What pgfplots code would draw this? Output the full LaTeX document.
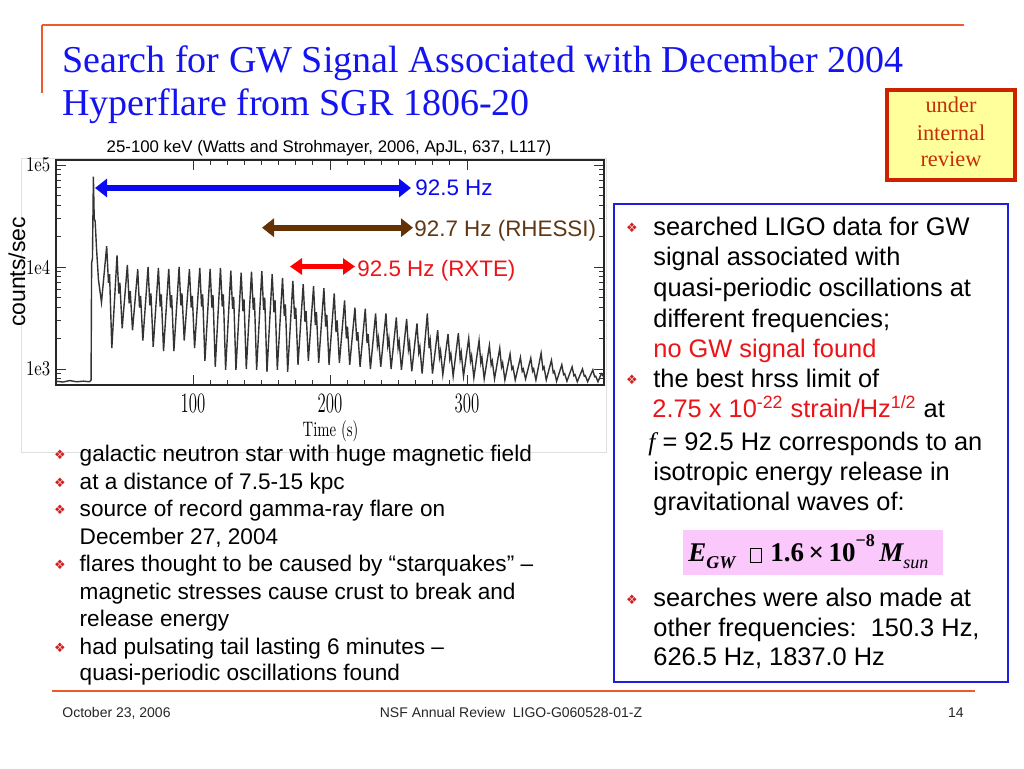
\documentclass[border=0pt]{standalone}
\usepackage{pgfplots}
\pgfplotsset{compat=1.18}
\usepackage{fontspec}
\usetikzlibrary{arrows.meta}
\newfontfamily\arialf{Liberation Sans}
\newfontfamily\timesf{Liberation Serif}
\newfontfamily\djv{DejaVu Sans}

\definecolor{slideorange}{RGB}{240,90,40}
\definecolor{titleblue}{RGB}{20,20,240}
\definecolor{arrowblue}{RGB}{10,10,240}
\definecolor{arrowbrown}{RGB}{100,50,5}
\definecolor{brtext}{RGB}{95,55,20}
\definecolor{txtred}{RGB}{235,20,25}
\definecolor{bulletred}{RGB}{210,30,30}
\definecolor{boxyellow}{RGB}{255,255,156}
\definecolor{boxred}{RGB}{204,34,0}
\definecolor{boxtext}{RGB}{200,45,10}
\definecolor{boxblue}{RGB}{30,30,220}
\definecolor{formpink}{RGB}{250,200,250}

% light curve, counts/sec against time (s)
\pgfplotstableread{
t c
0 760
5 745
10 770
15 750
20 760
24.5 750
25.6 780
26.0 11000
26.6 12000
27.3 77000
27.9 30000
28.6 28000
29.6 15000
31.0 7500
33.2 4500
37.0 16000
38.3 7000
39.1 8500
40.75 1600
44.55 13000
45.85 5500
46.65 7000
48.3 2500
52.1 10500
53.4 4400
54.2 5800
55.85 2400
59.65 9500
60.95 4000
61.75 5200
63.4 1900
67.2 10000
68.5 4200
69.3 5500
70.95 1650
74.75 9800
76.05 4100
76.85 5400
78.5 1500
82.3 9600
83.6 4000
84.4 5300
86.05 1500
89.85 10000
91.15 4200
91.95 5500
93.6 1900
97.4 9500
98.7 4000
99.5 5200
101.15 1600
104.95 9800
106.25 4100
107.05 5400
108.7 1200
112.5 9600
113.8 4000
114.6 5300
116.25 1050
120.05 9800
121.35 4100
122.15 5400
123.8 980
127.6 9200
128.9 3900
129.7 5100
131.35 980
135.15 8800
136.45 3700
137.25 4800
138.9 1000
142.7 9000
144.0 3800
144.8 5000
146.45 980
150.25 9100
151.55 3800
152.35 5000
154.0 940
157.8 8500
159.1 3600
159.9 4700
161.55 980
165.35 7800
166.65 3300
167.45 4300
169.1 940
172.9 7300
174.2 3100
175.0 4000
176.65 1100
180.45 6800
181.75 2900
182.55 3700
184.2 1200
188.0 6500
189.3 2700
190.1 3600
191.75 1150
195.55 6200
196.85 2600
197.65 3400
199.3 1100
203.1 5500
204.4 2300
205.2 3000
206.85 1150
210.65 4700
211.95 2000
212.75 2600
214.4 1100
218.2 4000
219.5 1900
220.3 2300
221.95 1050
225.75 3900
227.05 1800
227.85 2200
229.5 1000
233.3 3500
234.6 1700
235.4 2000
237.05 1050
240.85 3500
242.15 1700
242.95 2000
244.6 1000
248.4 3200
249.7 1600
250.5 1850
252.15 980
255.95 3100
257.25 1550
258.05 1800
259.7 950
263.5 2800
264.8 1450
265.6 1650
267.25 900
271.05 3500
272.35 1600
273.15 1900
274.8 900
278.6 2400
279.9 1300
280.7 1500
282.35 880
286.15 2200
287.45 1250
288.25 1400
289.9 850
293.7 2250
295.0 1250
295.8 1450
297.45 850
301.25 2000
302.55 1200
303.35 1350
305.0 820
308.8 1900
310.1 1150
310.9 1300
312.55 800
316.35 1700
317.65 1100
318.45 1200
320.1 800
323.9 1600
325.2 1050
326.0 1150
327.65 780
331.45 1400
332.75 1000
333.55 1050
335.2 780
339.0 1300
340.3 950
341.1 1000
342.75 800
346.55 1280
347.85 950
348.65 1000
350.3 780
354.1 1430
355.4 1000
356.2 1050
357.85 780
361.65 1220
362.95 920
363.75 950
365.4 760
369.2 1100
370.5 880
371.3 900
372.95 760
376.75 1050
378.05 860
378.85 880
380.5 750
384.3 1000
385.6 850
386.4 860
388.05 750
391.85 980
393.15 840
393.95 850
395.6 750
398.0 900
399.5 850
}\lightcurve

\begin{document}
\begin{tikzpicture}[x=0.5pt,y=0.5pt]
% slide canvas, 1024 x 768 px, y counted upward
\path[use as bounding box, fill=white] (0,0) rectangle (1024,768);

% orange rules
\draw[slideorange, line width=1.2pt] (42,743) -- (964,743);
\draw[slideorange, line width=1.2pt] (42,743) -- (42,675);
\draw[slideorange, line width=1.2pt] (52,77) -- (975,77);

% title
\node[anchor=base west, inner sep=0, text=titleblue, font={\timesf\fontsize{19}{19}\selectfont}] at (62,696)
  {Search for GW Signal Associated with December 2004};
\node[anchor=base west, inner sep=0, text=titleblue, font={\timesf\fontsize{19}{19}\selectfont}] at (62,653)
  {Hyperflare from SGR 1806-20};

% under internal review
\draw[boxred, line width=2pt, fill=boxyellow] (887,678) rectangle (1015,588);
\begin{scope}[every node/.style={anchor=base, inner sep=0, text=boxtext, font={\timesf\fontsize{11.2}{11.2}\selectfont}}]
\node at (951,655.7) {under};
\node at (951,628) {internal};
\node at (951,601.3) {review};
\end{scope}

% frame of the pasted figure
\draw[gray!25, line width=0.5pt] (21,610) rectangle (606,316);

\node[anchor=base, inner sep=0, font={\arialf\fontsize{8.4}{8.4}\selectfont}] at (329,615.3)
  {25-100 keV (Watts and Strohmayer, 2006, ApJL, 637, L117)};
\node[rotate=90, inner sep=0, font={\arialf\fontsize{11.5}{11.5}\selectfont}] at (17,496) {counts/sec};

\begin{axis}[
    at={(28pt,191.5pt)}, anchor=south west,
    scale only axis, width=274pt, height=112.5pt,
    xmin=0, xmax=400,
    ymode=log, ymin=697, ymax=112000,
    xtick={100,200,300}, xticklabels={100,200,300}, minor x tick num=7,
    ytick={1000,10000,100000}, yticklabels={1e3,1e4,1e5},
    minor ytick={800,900,2000,3000,4000,5000,6000,7000,8000,9000,20000,30000,40000,50000,60000,70000,80000,90000},
    tick align=inside, major tick length=5pt, minor tick length=2.6pt,
    axis line style={black!85, line width=0.8pt},
    tick style={black!80, line width=0.5pt},
    xticklabel style={font=\fontsize{14}{14}\selectfont, xscale=0.6, yshift=-1pt},
    yticklabel style={font=\fontsize{10.5}{10.5}\selectfont, xscale=0.8},
  ]
  \addplot[black!80, line width=0.7pt] table[x=t, y=c] {\lightcurve};
\end{axis}

\node[anchor=base, inner sep=0, xscale=0.7, font=\fontsize{10.5}{10.5}\selectfont] at (330.5,331.3) {Time (s)};

% frequency bands
\draw[arrowblue, line width=3pt, {Triangle[length=6pt,width=9pt]}-{Triangle[length=6pt,width=9pt]}] (95,580) -- (411,580);
\draw[arrowbrown, line width=3pt, {Triangle[length=6pt,width=9pt]}-{Triangle[length=6pt,width=9pt]}] (262,540.3) -- (413,540.3);
\draw[red, line width=2.6pt, {Triangle[length=6pt,width=8pt]}-{Triangle[length=6pt,width=8pt]}] (290,501.5) -- (355,501.5);
\begin{scope}[every node/.style={anchor=base west, inner sep=0, font={\arialf\fontsize{11.2}{11.2}\selectfont}}]
\node[text=arrowblue] at (415,573) {92.5 Hz};
\node[text=brtext] at (414,531.3) {92.7 Hz (RHESSI)};
\node[text=txtred] at (357,491.3) {92.5 Hz (RXTE)};
\end{scope}

% left bullet list
\begin{scope}[every node/.style={anchor=base west, inner sep=0, font={\arialf\fontsize{11.3}{11.3}\selectfont}}]
\node at (79.3,306.3) {galactic neutron star with huge magnetic field};
\node at (79.3,278.7) {at a distance of 7.5-15 kpc};
\node at (79.3,251.3) {source of record gamma-ray flare on};
\node at (79.3,224) {December 27, 2004};
\node at (79.3,196.3) {flares thought to be caused by “starquakes” –};
\node at (79.3,168.7) {magnetic stresses cause crust to break and};
\node at (79.3,141.3) {release energy};
\node at (79.3,113.7) {had pulsating tail lasting 6 minutes –};
\node at (79.3,87.3) {quasi-periodic oscillations found};
\end{scope}
\begin{scope}[every node/.style={inner sep=0, text=bulletred, font={\djv\fontsize{6.5}{6.5}\selectfont}}]
\node at (60,313) {❖};
\node at (60,285.5) {❖};
\node at (60,258) {❖};
\node at (60,203) {❖};
\node at (60,120.5) {❖};
\end{scope}

% right panel
\draw[boxblue, line width=1pt] (614,564) rectangle (1008,86);
\begin{scope}[every node/.style={anchor=base west, inner sep=0, font={\arialf\fontsize{12.7}{12.7}\selectfont}}]
\node at (653,533) {searched LIGO data for GW};
\node at (653,502.5) {signal associated with};
\node at (653,472) {quasi-periodic oscillations at};
\node at (653,441) {different frequencies;};
\node[text=txtred] at (653,411) {no GW signal found};
\node at (653,381) {the best hrss limit of};
\node at (652,350.7) {\textcolor{txtred}{2.75 x 10\textsuperscript{-22} strain/Hz\textsuperscript{1/2}} at};
\node at (648,318) {{\timesf\itshape f} = 92.5 Hz corresponds to an};
\node at (653,288) {isotropic energy release in};
\node at (653,258) {gravitational waves of:};
\node at (653,161.3) {searches were also made at};
\node at (653,132) {other frequencies:\ \ 150.3 Hz,};
\node at (653,103) {626.5 Hz, 1837.0 Hz};
\end{scope}
\begin{scope}[every node/.style={inner sep=0, text=bulletred, font={\djv\fontsize{6.5}{6.5}\selectfont}}]
\node at (632,540) {❖};
\node at (632,388) {❖};
\node at (632,168) {❖};
\end{scope}

% energy estimate
\fill[formpink] (683,238) rectangle (943,193);
\node[anchor=base west, inner sep=0, font={\timesf\fontsize{13.5}{13.5}\selectfont\bfseries\itshape}] at (688,206.3)
  {E\raisebox{-0.25em}{\fontsize{9}{9}\selectfont GW}};
\draw[black, line width=0.4pt] (750,206) rectangle (761,220);
\node[anchor=base west, inner sep=0, font={\timesf\fontsize{13.5}{13.5}\selectfont\bfseries}] at (770,206.3)
  {1.6\,×\,10\raisebox{0.55em}{\fontsize{9}{9}\selectfont −8}\,\itshape M\raisebox{-0.25em}{\fontsize{9}{9}\selectfont\mdseries sun}};

% footer
\begin{scope}[every node/.style={anchor=base, inner sep=0, text=black!85, font={\arialf\fontsize{7}{7}\selectfont}}]
\node[anchor=base west] at (62,51) {October 23, 2006};
\node at (511,51) {NSF Annual Review\ \ LIGO-G060528-01-Z};
\node[anchor=base east] at (964,51) {14};
\end{scope}
\end{tikzpicture}
\end{document}
